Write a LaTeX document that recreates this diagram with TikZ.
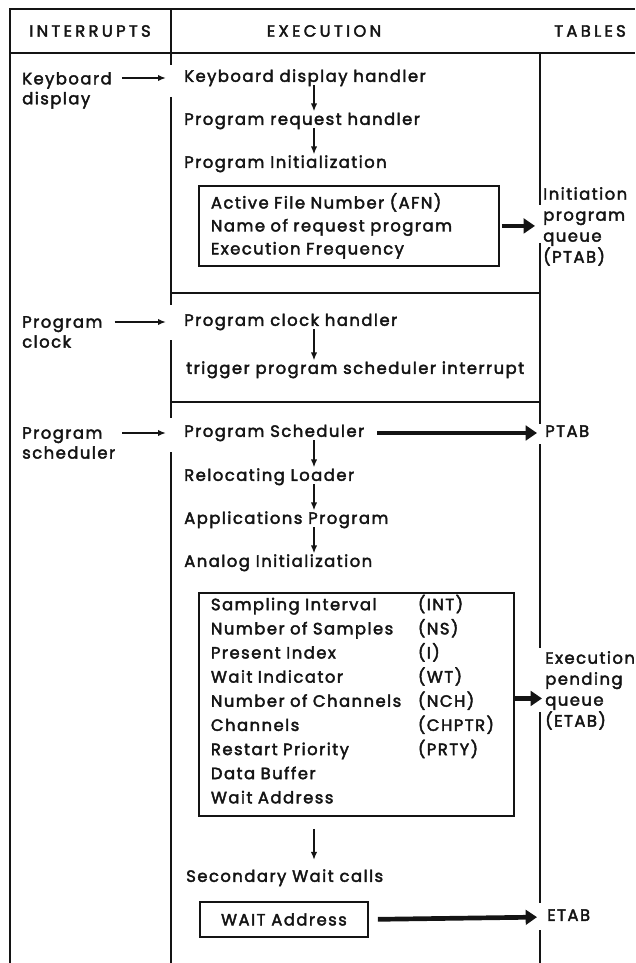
\documentclass[tikz,border=0pt]{standalone}
\usepackage{fontspec}
\setmainfont{Poppins}[LetterSpace=9, FakeBold=2.5]
\usepackage{tikz}
\usetikzlibrary{
  arrows.meta,
  positioning
}
\definecolor{flowink}{RGB}{20,20,20}
\tikzset{
  flowText/.style={
    anchor=west,
    inner sep=0pt,
    text height=1.5ex,
    text depth=0.3ex,
    text=flowink,
    font=\fontsize{14pt}{16pt}\selectfont
  },
  flowLabel/.style={
    anchor=north west,
    inner sep=0pt,
    align=left,
    text=flowink,
    font=\fontsize{14pt}{17pt}\selectfont
  },
  flowHead/.style={
    inner sep=0pt,
    text=flowink,
    font=\fontsize{14pt}{16pt}\selectfont\addfontfeature{LetterSpace=20}
  },
  flowBox/.style={
    anchor=north west,
    draw=flowink,
    line width=1.6pt,
    inner xsep=0.36cm,
    inner ysep=0pt,
    align=left,
    text=flowink
  },
  flowLine/.style={
    draw=flowink,
    line width=2pt
  },
  flowArrow/.style={
    -{Latex[length=2.4mm,width=1.9mm]},
    line width=1.5pt,
    draw=flowink
  },
  flowPush/.style={
    -{Triangle[length=3.4mm,width=4.4mm]},
    line width=4pt,
    draw=flowink
  }
}

\begin{document}
\begin{tikzpicture}[x=0.03cm, y=-0.03cm]
  \useasboundingbox (0,0) rectangle (635,963);

  % frame and column rules
  \draw[flowLine] (10,963) -- (10,9) -- (635,9);
  \draw[flowLine] (10,53) -- (635,53);
  \draw[flowLine] (171,9) -- (171,65);
  \draw[flowLine] (171,97) -- (171,305);
  \draw[flowLine] (171,340) -- (171,418);
  \draw[flowLine] (171,452) -- (171,963);
  \draw[flowLine] (540,53) -- (540,205);
  \draw[flowLine] (540,243) -- (540,424);
  \draw[flowLine] (540,444) -- (540,648);
  \draw[flowLine] (540,712) -- (540,903);
  \draw[flowLine] (540,930) -- (540,963);
  \draw[flowLine] (171,293) -- (540,293);
  \draw[flowLine] (171,402) -- (540,402);

  % headings
  \node[flowHead] (hdrInt) at (90,31) {INTERRUPTS};
  \node[flowHead] (hdrExe) at (324,31) {EXECUTION};
  \node[flowHead] (hdrTab) at (590,31) {TABLES};

  % interrupts
  \node[flowLabel] (intKbd) at (22,72) {Keyboard\\display};
  \node[flowLabel] (intClk) at (22,316) {Program\\clock};
  \node[flowLabel] (intSch) at (22,427) {Program\\scheduler};

  % execution chain
  \coordinate (flowAxis) at (314,0);
  \node[flowText] (exeKbd) at (184,78) {Keyboard display handler};
  \node[flowText] (exeReq) at (184,121) {Program request handler};
  \node[flowText] (exeInit) at (184,164) {Program Initialization};

  \node[flowBox, text width=8.28cm, minimum height=2.4cm,
    font=\fontsize{14pt}{19.6pt}\selectfont]
    (boxInit) at (198,185)
    {Active File Number (AFN)\\Name of request program\\Execution Frequency};

  \node[flowText] (exeClk) at (184,322) {Program clock handler};
  \node[flowText] (exeTrig) at (186,370) {trigger program scheduler interrupt};

  \node[flowText] (exeSch) at (184,433) {Program Scheduler};
  \node[flowText] (exeLoad) at (184,477) {Relocating Loader};
  \node[flowText] (exeApp) at (184,520) {Applications Program};
  \node[flowText] (exeAna) at (184,563) {Analog Initialization};

  \node[flowBox, text width=8.73cm, minimum height=6.69cm,
    font=\fontsize{14pt}{20.6pt}\selectfont]
    (boxAna) at (198,592)
    {\begin{tabular}{@{}p{6.21cm}@{}l@{}}
      Sampling Interval & (INT)\\
      Number of Samples & (NS)\\
      Present Index & (I)\\
      Wait Indicator & (WT)\\
      Number of Channels & (NCH)\\
      Channels & (CHPTR)\\
      Restart Priority & (PRTY)\\
      Data Buffer & \\
      Wait Address &
    \end{tabular}\vspace{0.15cm}};

  \node[flowText] (exeSec) at (186,878) {Secondary Wait calls};
  \node[flowBox, minimum width=5.04cm, minimum height=1.05cm,
    font=\fontsize{14pt}{16pt}\selectfont]
    (boxWait) at (199,901) {WAIT Address};

  % tables
  \node[flowLabel, font=\fontsize{14pt}{17.9pt}\selectfont]
    (tabInit) at (543,187) {Initiation\\program\\queue\\(PTAB)};
  \node[flowText] (tabPtab) at (545,433) {PTAB};
  \node[flowLabel, font=\fontsize{14pt}{17.9pt}\selectfont]
    (tabExec) at (545,651) {Execution\\pending\\queue\\(ETAB)};
  \node[flowText] (tabEtab) at (547,917) {ETAB};

  % interrupt arrows
  \draw[flowArrow, shorten <=0.3cm, shorten >=0.54cm]
    (intKbd.east |- exeKbd.west) -- (exeKbd.west);
  \draw[flowArrow, shorten <=0.36cm, shorten >=0.54cm]
    (intClk.east |- exeClk.west) -- (exeClk.west);
  \draw[flowArrow, shorten <=0.2cm, shorten >=0.54cm]
    (intSch.east |- exeSch.west) -- (exeSch.west);

  % flow down the execution column
  \draw[flowArrow, shorten <=1pt, shorten >=3pt] (exeKbd.south -| flowAxis) -- (exeReq.north -| flowAxis);
  \draw[flowArrow, shorten <=1pt, shorten >=3pt] (exeReq.south -| flowAxis) -- (exeInit.north -| flowAxis);
  \draw[flowArrow, shorten <=1pt, shorten >=3pt] (exeClk.south -| flowAxis) -- (exeTrig.north -| flowAxis);
  \draw[flowArrow, shorten <=1pt, shorten >=3pt] (exeSch.south -| flowAxis) -- (exeLoad.north -| flowAxis);
  \draw[flowArrow, shorten <=1pt, shorten >=3pt] (exeLoad.south -| flowAxis) -- (exeApp.north -| flowAxis);
  \draw[flowArrow, shorten <=1pt, shorten >=3pt] (exeApp.south -| flowAxis) -- (exeAna.north -| flowAxis);
  \draw[flowArrow, shorten <=0.36cm, shorten >=0.36cm]
    (boxAna.south -| flowAxis) -- (exeSec.north -| flowAxis);

  % into the tables
  \draw[flowPush, shorten <=0.06cm, shorten >=0.24cm]
    (boxInit.east) -- (tabInit.west |- boxInit.east);
  \draw[flowPush, shorten <=0.39cm, shorten >=0.24cm]
    (exeSch.east) -- (tabPtab.west);
  \draw[flowPush, shorten >=0.09cm]
    ([yshift=0.18cm]boxAna.east) -- ([yshift=0.18cm]tabExec.west |- boxAna.east);
  \draw[flowPush, shorten <=0.27cm, shorten >=0.3cm]
    (boxWait.east) -- (tabEtab.west);
\end{tikzpicture}
\end{document}
